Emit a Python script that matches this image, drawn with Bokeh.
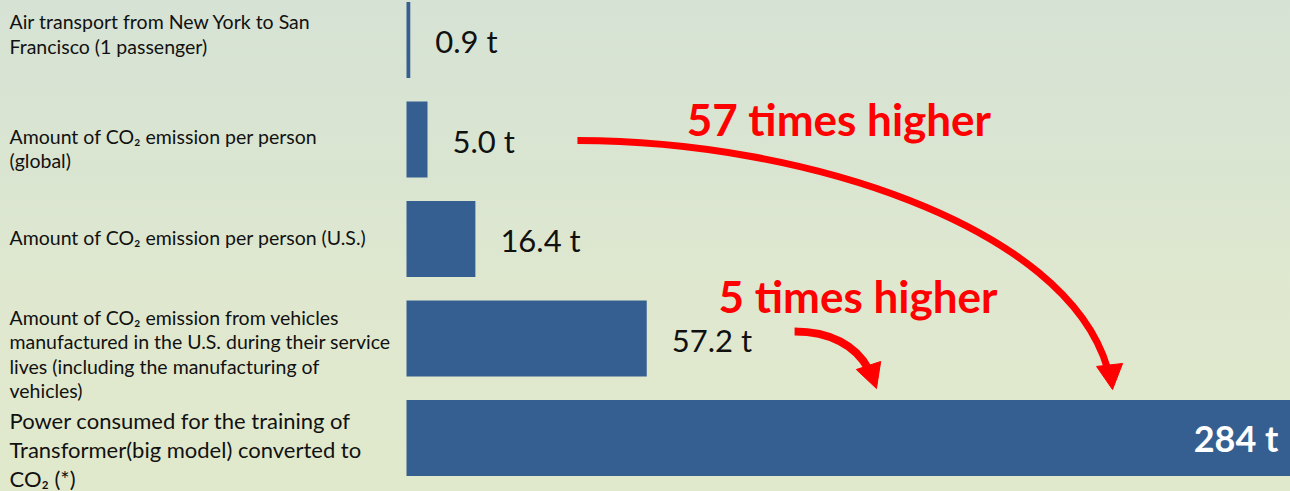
from bokeh.plotting import figure
from bokeh.models import Range1d, ColumnDataSource
from bokeh.core.properties import value
from bokeh.embed import file_html
from bokeh.resources import INLINE

# ---- data ----
categories = [
    "Air transport from New York to San\nFrancisco (1 passenger)",
    "Amount of CO\u2082 emission per person\n(global)",
    "Amount of CO\u2082 emission per person (U.S.)",
    "Amount of CO\u2082 emission from vehicles\nmanufactured in the U.S. during their service\nlives (including the manufacturing of\nvehicles)",
    "Power consumed for the training of\nTransformer(big model) converted to\nCO\u2082 (*)",
]
emissions_t = [0.9, 5.0, 16.4, 57.2, 284]
value_labels = ["0.9 t", "5.0 t", "16.4 t", "57.2 t", "284 t"]
callouts = ["57 times higher", "5 times higher"]

# ---- layout ----
W, H = 1290, 491
PX_PER_T = 4.2
BAR_LEFT_PX = 406
ROW_PX = 99.5
FIRST_ROW_PX = 39.5
X0 = -BAR_LEFT_PX / PX_PER_T
X1 = (W - BAR_LEFT_PX) / PX_PER_T
Y_TOP = -FIRST_ROW_PX / ROW_PX
Y_BOT = (H - FIRST_ROW_PX) / ROW_PX

BAR_COLOR = "#365f91"
RED = "#ff0000"
FONT = value("Lato")

idx = list(range(len(categories)))

p = figure(width=W, height=H, output_backend="svg", toolbar_location=None,
           x_range=Range1d(X0, X1), y_range=Range1d(Y_BOT, Y_TOP),
           min_border=0, outline_line_color=None,
           background_fill_alpha=0, border_fill_alpha=0,
           styles={"background": "linear-gradient(180deg, #d6e2d4 0%, #dae5d1 35%, #dfe8cf 60%, #e1e9cc 100%)"})
p.axis.visible = False
p.grid.visible = False

src = ColumnDataSource(dict(y=idx, v=emissions_t, lab=value_labels, cat=categories))
p.hbar(y="y", left=0, right="v", height=0.764, source=src,
       fill_color=BAR_COLOR, line_color=None)

# category labels (left)
label_dy = [-6, 9, -2, 15.5, 11.5]
small = ColumnDataSource(dict(x=[X0] * 4, y=idx[:4], t=categories[:4], dy=label_dy[:4]))
p.text(x="x", y="y", text="t", y_offset="dy", x_offset=9, source=small,
       text_font=FONT, text_font_size="19.5px", text_color="#111111",
       text_baseline="middle", text_align="left", text_line_height=1.05)
big = ColumnDataSource(dict(x=[X0], y=idx[4:], t=categories[4:], dy=label_dy[4:]))
p.text(x="x", y="y", text="t", y_offset="dy", x_offset=9, source=big,
       text_font=FONT, text_font_size="22px", text_color="#111111",
       text_baseline="middle", text_align="left", text_line_height=1.07)

# value labels
vsrc = ColumnDataSource(dict(x=emissions_t[:4], y=idx[:4], t=value_labels[:4]))
p.text(x="x", y="y", text="t", x_offset=25, y_offset=1, source=vsrc,
       text_font=FONT, text_font_size="31px", text_color="#111111",
       text_baseline="middle", text_align="left")
p.text(x=[X1], y=[idx[4]], text=[value_labels[4]], x_offset=-12,
       text_font=FONT, text_font_size="36px", text_font_style="bold",
       text_color="white", text_baseline="middle", text_align="right")

# callout arrows (annotation geometry in data units)
p.bezier(x0=[40.7], y0=[1.01], cx0=[93.8], cy0=[1.01], cx1=[156.9], cy1=[1.86],
         x1=[166.9], y1=[3.30], line_color=RED, line_width=7)
p.patch(x=[164.3, 170.5, 168.1], y=[3.281, 3.251, 3.513], fill_color=RED, line_color=RED, line_width=1)

p.bezier(x0=[92.4], y0=[2.93], cx0=[100.9], cy0=[2.93], cx1=[106.9], cy1=[3.07],
         x1=[109.9], y1=[3.30], line_color=RED, line_width=8)
p.patch(x=[107.1, 112.9, 111.9], y=[3.312, 3.231, 3.503], fill_color=RED, line_color=RED, line_width=1)

p.text(x=[66.7, 74.3], y=[0.789, 2.568], text=callouts,
       text_font=FONT, text_font_size="44px", text_font_style="bold",
       text_color=RED, text_baseline="middle", text_align="left")

open("out.html", "w").write(file_html(p, INLINE))
